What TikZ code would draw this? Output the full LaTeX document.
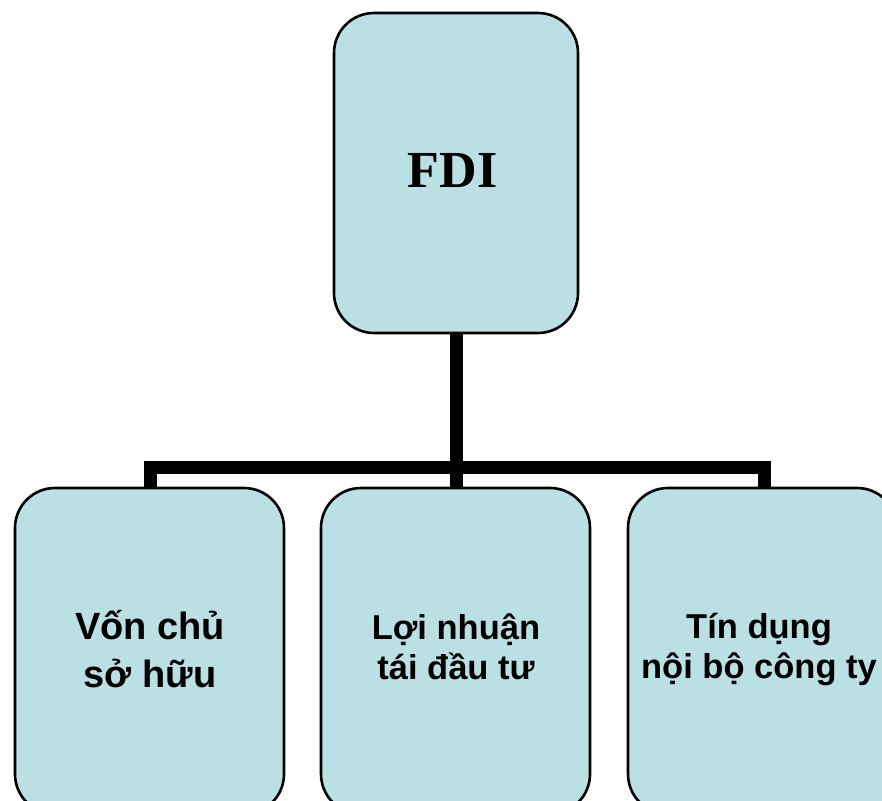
\documentclass[tikz,border=0pt]{standalone}
\usepackage{fontspec}
\setmainfont{Liberation Serif}
\newfontfamily\labelfont{Liberation Sans}
\usetikzlibrary{backgrounds}
\definecolor{boxfill}{RGB}{187,224,227}
\tikzset{
  orgbox/.style={draw=black, line width=2.6pt, fill=boxfill, rounded corners=40pt,
    minimum width=#1, inner sep=0pt, outer sep=0pt},
  conn/.style={draw=black, line width=13pt, line join=miter, line cap=butt},
  boxlabel/.style={align=center, anchor=base, inner sep=0pt,
    font=\labelfont\bfseries\fontsize{34.5}{40}\selectfont},
}
\begin{document}
\begin{tikzpicture}[x=1pt, y=-1pt]
  \useasboundingbox (0,0) rectangle (882,800);
  \clip (0,0) rectangle (882,800);

  % boxes (positions in pixels, y downwards)
  \node[orgbox=244pt, minimum height=320pt] (top) at (456,173) {};
  \node[orgbox=269pt, minimum height=326pt] (left) at (149.5,651) {};
  \node[orgbox=269pt, minimum height=326pt] (mid) at (455.5,651) {};
  \node[orgbox=269pt, minimum height=326pt] (right) at (762.5,651) {};

  % connecting tree behind the boxes
  \coordinate (bus) at (456,467);
  \coordinate (busL) at (150,467);
  \coordinate (busR) at (764,467);
  \begin{scope}[on background layer]
    \draw[conn] (top.south) -- (bus);
    \draw[conn] (left.north -| busL) -- (busL) -- (busR) -- (right.north -| busR);
    \draw[conn] (mid.north -| bus) -- (bus);
  \end{scope}

  % labels (anchored at the baseline of their last line)
  \node[anchor=base, inner sep=0pt, font=\bfseries\fontsize{52}{52}\selectfont] (fdi) at (452.5,187) {FDI};
  \node[boxlabel, font=\labelfont\bfseries\fontsize{38}{48}\selectfont] (lblL) at (150,687) {Vốn chủ\\ sở hữu};
  \node[boxlabel] (lblM) at (456,679) {Lợi nhuận\\ tái đầu tư};
  \node[boxlabel] (lblR) at (759,678) {Tín dụng\\ nội bộ công ty};
\end{tikzpicture}
\end{document}
